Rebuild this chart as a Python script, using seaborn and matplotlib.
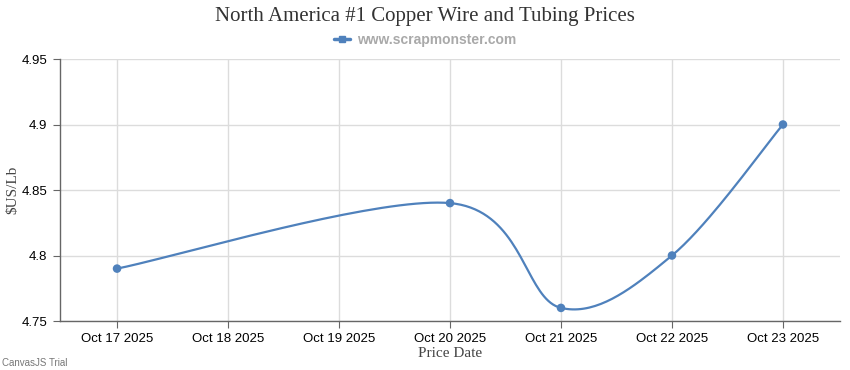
import numpy as np
import pandas as pd
import matplotlib
matplotlib.use('Agg')
import matplotlib.pyplot as plt
import matplotlib.dates as mdates
from matplotlib.lines import Line2D
import seaborn as sns

# Data
price_dates = ['2025-10-17', '2025-10-20', '2025-10-21', '2025-10-22', '2025-10-23']
prices = [4.79, 4.84, 4.76, 4.80, 4.90]
tick_dates = ['2025-10-17', '2025-10-18', '2025-10-19', '2025-10-20',
              '2025-10-21', '2025-10-22', '2025-10-23']
y_ticks = [4.75, 4.80, 4.85, 4.90, 4.95]

blue = '#4F81BC'

df = pd.DataFrame({'date': pd.to_datetime(price_dates), 'price': prices})
xs = mdates.date2num(df['date'])
ys = df['price'].to_numpy()


# spline like CanvasJS (cubic bezier, tension 2) for the drawn line only
def spline(x, y, tension=2.0, n=40):
    out_x, out_y = [x[0]], [y[0]]
    last = len(x) - 1
    for i in range(1, len(x)):
        a = i - 1
        a0, a1 = max(a - 1, 0), min(a + 1, last)
        c1x = x[a] + (x[a1] - x[a0]) / tension / 3
        c1y = y[a] + (y[a1] - y[a0]) / tension / 3
        b0, b1 = max(i - 1, 0), min(i + 1, last)
        c2x = x[i] - (x[b1] - x[b0]) / tension / 3
        c2y = y[i] - (y[b1] - y[b0]) / tension / 3
        t = np.linspace(0, 1, n)[1:]
        out_x.extend((1 - t) ** 3 * x[a] + 3 * (1 - t) ** 2 * t * c1x + 3 * (1 - t) * t ** 2 * c2x + t ** 3 * x[i])
        out_y.extend((1 - t) ** 3 * y[a] + 3 * (1 - t) ** 2 * t * c1y + 3 * (1 - t) * t ** 2 * c2y + t ** 3 * y[i])
    return np.array(out_x), np.array(out_y)


sx, sy = spline(xs, ys)
curve = pd.DataFrame({'date': mdates.num2date(sx), 'price': sy})

sns.set_style('white')
plt.rcParams['font.family'] = ['Liberation Sans', 'DejaVu Sans']

fig = plt.figure(figsize=(8.5, 3.7), dpi=100)
ax = fig.add_axes([60 / 850, 49 / 370, 780 / 850, 262 / 370])

sns.lineplot(data=curve, x='date', y='price', ax=ax, color=blue, linewidth=1.6, legend=False)
sns.scatterplot(data=df, x='date', y='price', ax=ax, color=blue, s=38,
                edgecolor='none', zorder=3, legend=False)

tick_nums = mdates.date2num(pd.to_datetime(tick_dates))
ax.set_xticks(tick_nums)
ax.set_xticklabels([d.strftime('%b %d %Y') for d in pd.to_datetime(tick_dates)])
ax.set_xlim(tick_nums[0] - 0.514, tick_nums[-1] + 0.514)
ax.set_yticks(y_ticks)
ax.set_yticklabels([f'{v:g}' for v in y_ticks])
ax.set_ylim(4.75, 4.95)

ax.grid(True, color='#dcdcdc', linewidth=1)
ax.set_axisbelow(True)
for s in ['top', 'right']:
    ax.spines[s].set_visible(False)
for s in ['left', 'bottom']:
    ax.spines[s].set_color('#666666')
    ax.spines[s].set_linewidth(1)
ax.tick_params(axis='both', length=5, color='#666666', labelsize=9.5, labelcolor='black',
               pad=4, left=True, bottom=True)

ax.set_xlabel('Price Date', family='Liberation Serif', fontsize=11, color='#444444', labelpad=1)
ax.set_ylabel('$US/Lb', family='Liberation Serif', fontsize=11, color='#444444', labelpad=2)

fig.text(0.5, 1 - 16 / 370, 'North America #1 Copper Wire and Tubing Prices',
         ha='center', va='center', family='Liberation Serif',
         fontsize=15, color='#333333')

handle = Line2D([], [], color=blue, linewidth=2.5, marker='s', markersize=5)
leg = ax.legend([handle], ['www.scrapmonster.com'], loc='center',
                bbox_to_anchor=(0.5, 1 - 40 / 370), bbox_transform=fig.transFigure,
                frameon=False, handlelength=1.2, handletextpad=0.5,
                prop={'size': 10, 'weight': 'bold'})
for t in leg.get_texts():
    t.set_color('#a9a9a9')

fig.text(2 / 850, 1 - 363 / 370, 'CanvasJS Trial', fontsize=7, color='#777777',
         ha='left', va='center')

fig.savefig('out.png', dpi=100)
